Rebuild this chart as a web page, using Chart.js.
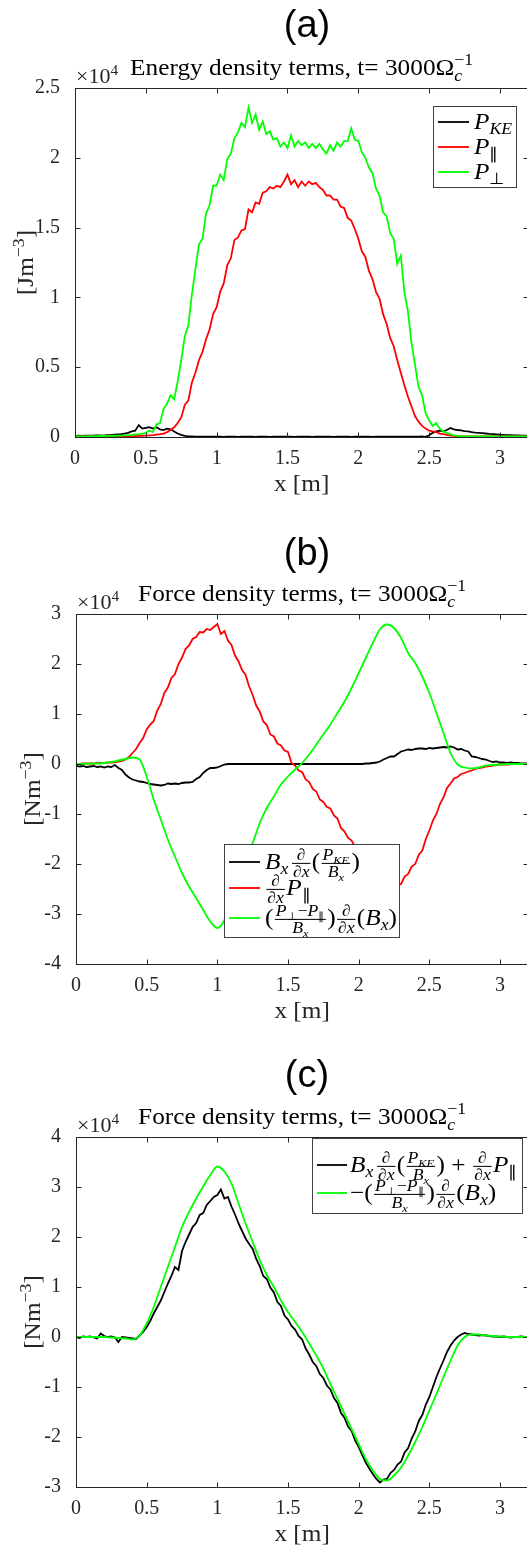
<!DOCTYPE html>
<html><head><meta charset="utf-8">
<script src="https://cdn.jsdelivr.net/npm/chart.js@4.4.0/dist/chart.umd.min.js"></script>
<style>
html,body{margin:0;padding:0;background:#fff;overflow:hidden;width:527px;height:1550px;position:relative;}
canvas{position:absolute;left:0;}
</style></head><body>
<canvas id="ca" width="540" height="515" style="top:0px"></canvas>
<canvas id="cb" width="540" height="515" style="top:515px"></canvas>
<canvas id="cc" width="540" height="520" style="top:1030px"></canvas>
<script>
// ---------- DATA (values in units of 1e4) ----------
const X_TICKS_STEP = 0.5;
const xFine = Array.from({length: 129}, (_, i) => +(i * 0.025).toFixed(3));   // 0 .. 3.2
const xCoarse = Array.from({length: 65}, (_, i) => +(i * 0.05).toFixed(2));   // 0 .. 3.2

// Panel (a): energy density terms
const A_PKE = [
 0.008,0.009,0.008,0.010,0.009,0.010,0.011,0.012,0.010,0.013,
 0.014,0.016,0.018,0.020,0.025,0.030,0.040,0.045,0.085,0.060,
 0.065,0.070,0.060,0.070,0.055,0.050,0.060,0.055,0.040,0.025,
 0.015,0.008,0.005,0.004,0.003,0.003,0.003,0.002,0.002,0.002,
 0.002,0.002,0.001,0.002,0.002,0.002,0.001,0.002,0.002,0.002,
 0.002,0.001,0.002,0.002,0.002,0.001,0.002,0.002,0.002,0.002,
 0.002,0.002,0.001,0.002,0.002,0.002,0.002,0.001,0.002,0.002,
 0.002,0.002,0.002,0.001,0.002,0.002,0.002,0.002,0.001,0.002,
 0.002,0.002,0.002,0.002,0.001,0.002,0.002,0.002,0.002,0.002,
 0.002,0.002,0.002,0.002,0.002,0.002,0.002,0.003,0.004,0.001,
 0.012,0.030,0.040,0.045,0.040,0.050,0.065,0.055,0.050,0.048,
 0.042,0.040,0.035,0.032,0.030,0.028,0.025,0.022,0.020,0.018,
 0.016,0.015,0.014,0.013,0.012,0.011,0.010,0.010,0.010];
const A_PPAR = [
 0.004,0.004,0.004,0.004,0.004,0.004,0.004,0.004,0.004,0.004,
 0.004,0.004,0.005,0.005,0.005,0.006,0.006,0.007,0.008,0.009,
 0.010,0.012,0.014,0.017,0.020,0.025,0.035,0.050,0.070,0.100,
 0.14,0.23,0.26,0.39,0.46,0.55,0.61,0.70,0.77,0.88,
 0.93,1.04,1.10,1.23,1.28,1.41,1.43,1.48,1.49,1.63,
 1.61,1.68,1.67,1.75,1.76,1.79,1.78,1.80,1.79,1.83,
 1.88,1.81,1.84,1.79,1.83,1.80,1.83,1.81,1.82,1.79,
 1.77,1.73,1.73,1.70,1.70,1.65,1.64,1.57,1.55,1.49,
 1.42,1.33,1.29,1.19,1.13,1.04,0.99,0.88,0.81,0.71,
 0.65,0.55,0.46,0.37,0.29,0.22,0.15,0.11,0.08,0.06,
 0.045,0.040,0.035,0.025,0.020,0.015,0.010,0.008,0.006,0.005,
 0.004,0.004,0.004,0.004,0.004,0.004,0.004,0.004,0.004,0.004,
 0.004,0.004,0.004,0.004,0.004,0.004,0.004,0.004,0.004];
const A_PPERP = [
 0.005,0.005,0.005,0.005,0.006,0.006,0.006,0.007,0.007,0.008,
 0.008,0.009,0.010,0.010,0.012,0.013,0.015,0.018,0.020,0.025,
 0.030,0.045,0.035,0.090,0.100,0.200,0.240,0.300,0.270,0.400,
 0.55,0.72,0.80,1.02,1.20,1.38,1.42,1.60,1.66,1.80,
 1.80,1.88,1.84,1.99,2.03,2.14,2.18,2.25,2.22,2.36,
 2.25,2.31,2.20,2.26,2.17,2.19,2.13,2.14,2.08,2.11,
 2.07,2.16,2.08,2.12,2.09,2.11,2.07,2.10,2.07,2.10,
 2.06,2.03,2.09,2.05,2.11,2.08,2.12,2.12,2.21,2.13,
 2.12,2.04,2.00,1.93,1.89,1.78,1.73,1.61,1.58,1.46,
 1.42,1.24,1.30,1.04,0.90,0.68,0.52,0.36,0.30,0.17,
 0.12,0.08,0.10,0.06,0.04,0.03,0.02,0.012,0.008,0.006,
 0.005,0.005,0.005,0.005,0.005,0.005,0.005,0.005,0.005,0.005,
 0.005,0.005,0.005,0.005,0.005,0.005,0.005,0.005,0.005];

// Panel (b): force density terms
const B_KE = [
 -0.03,-0.05,-0.04,-0.06,-0.05,-0.04,-0.06,-0.05,-0.07,-0.05,
 -0.06,-0.02,-0.08,-0.12,-0.21,-0.27,-0.31,-0.33,-0.35,-0.36,
 -0.38,-0.40,-0.41,-0.42,-0.43,-0.42,-0.39,-0.40,-0.39,-0.40,
 -0.38,-0.37,-0.37,-0.36,-0.30,-0.26,-0.18,-0.12,-0.08,-0.08,
 -0.07,-0.04,-0.01,0.00,0.00,0.00,0.00,0.00,0.00,0.00,
 0.00,0.00,0.00,0.00,0.00,0.00,0.00,0.00,0.00,0.00,
 0.00,0.00,0.00,0.00,0.00,0.00,0.00,0.00,0.00,0.00,
 0.00,0.00,0.00,0.00,0.00,0.00,0.00,0.00,0.00,0.00,
 0.00,0.00,0.01,0.01,0.02,0.03,0.05,0.09,0.12,0.15,
 0.15,0.20,0.25,0.27,0.29,0.28,0.30,0.31,0.31,0.30,
 0.32,0.31,0.32,0.33,0.34,0.33,0.35,0.33,0.29,0.30,
 0.27,0.25,0.15,0.14,0.12,0.10,0.09,0.06,0.04,0.05,
 0.03,0.03,0.02,0.03,0.02,0.02,0.01,0.01,0.01];
const B_DPPAR = [
 0.00,0.00,0.01,0.01,0.01,0.01,0.02,0.02,0.02,0.03,
 0.03,0.04,0.05,0.06,0.09,0.14,0.22,0.30,0.42,0.52,
 0.69,0.79,0.86,1.07,1.20,1.42,1.53,1.72,1.80,2.00,
 2.13,2.30,2.37,2.50,2.54,2.64,2.63,2.70,2.68,2.74,
 2.80,2.60,2.66,2.47,2.38,2.17,2.05,1.88,1.78,1.55,
 1.38,1.17,1.05,0.85,0.78,0.59,0.55,0.41,0.37,0.27,
 0.24,0.02,-0.03,-0.13,-0.16,-0.31,-0.36,-0.50,-0.55,-0.71,
 -0.76,-0.86,-0.89,-1.03,-1.09,-1.28,-1.35,-1.48,-1.53,-1.66,
 -1.75,-1.90,-2.05,-2.20,-2.35,-2.45,-2.52,-2.56,-2.55,-2.50,
 -2.48,-2.43,-2.40,-2.25,-2.20,-2.05,-2.00,-1.82,-1.73,-1.50,
 -1.33,-1.13,-1.00,-0.80,-0.67,-0.48,-0.39,-0.29,-0.26,-0.20,
 -0.18,-0.15,-0.13,-0.10,-0.08,-0.07,-0.05,-0.04,-0.03,-0.02,
 -0.01,-0.01,-0.01,0.00,0.00,0.00,0.00,0.00,0.00];
const B_ANISO = [
 0.00,0.00,0.01,0.01,0.02,0.04,0.07,0.10,0.13,0.09,
 -0.25,-0.71,-1.11,-1.51,-1.85,-2.18,-2.45,-2.68,-2.92,-3.15,
 -3.28,-3.12,-2.72,-2.25,-1.88,-1.58,-1.18,-0.88,-0.65,-0.41,
 -0.25,-0.11,0.02,0.19,0.39,0.59,0.79,1.02,1.25,1.52,
 1.82,2.12,2.42,2.69,2.79,2.72,2.52,2.22,2.02,1.75,
 1.42,1.02,0.62,0.22,-0.01,-0.07,-0.09,-0.07,-0.03,-0.02,
 -0.01,0.00,0.00,0.00,0.00];

// Panel (c): balance
const C_SUM = [
 0.00,-0.02,0.01,0.00,0.01,-0.01,-0.03,0.07,0.02,0.00,
 0.01,-0.01,-0.10,0.00,-0.01,-0.02,-0.03,-0.04,0.03,0.10,
 0.20,0.32,0.47,0.60,0.73,0.90,1.07,1.22,1.40,1.34,
 1.72,1.90,2.05,2.20,2.28,2.44,2.48,2.64,2.72,2.80,
 2.84,2.95,2.77,2.80,2.61,2.45,2.27,2.12,1.97,1.86,
 1.76,1.56,1.42,1.22,1.16,0.99,0.89,0.70,0.62,0.43,
 0.35,0.22,0.15,0.02,-0.05,-0.23,-0.35,-0.50,-0.58,-0.74,
 -0.82,-0.97,-1.05,-1.22,-1.32,-1.52,-1.62,-1.79,-1.88,-2.07,
 -2.20,-2.36,-2.51,-2.63,-2.74,-2.84,-2.91,-2.85,-2.84,-2.72,
 -2.66,-2.55,-2.49,-2.31,-2.22,-2.03,-1.89,-1.68,-1.56,-1.35,
 -1.20,-1.00,-0.80,-0.63,-0.47,-0.30,-0.17,-0.07,0.00,0.05,
 0.08,0.06,0.05,0.04,0.03,0.04,0.03,0.02,0.01,0.01,
 0.00,0.01,0.00,-0.01,0.00,0.00,0.01,0.00,0.00];
const C_ANISO = [
 0.00,0.00,0.00,0.00,0.00,-0.01,-0.02,-0.03,-0.05,0.03,
 0.27,0.60,1.00,1.40,1.80,2.20,2.50,2.77,3.01,3.24,
 3.41,3.31,3.07,2.67,2.27,1.90,1.54,1.24,1.00,0.73,
 0.50,0.30,0.10,-0.13,-0.37,-0.63,-0.94,-1.24,-1.54,-1.84,
 -2.14,-2.44,-2.67,-2.84,-2.87,-2.77,-2.61,-2.37,-2.10,-1.80,
 -1.47,-1.14,-0.80,-0.47,-0.17,0.00,0.05,0.05,0.03,0.02,
 0.01,0.00,0.00,0.00,0.00];

// ---------- math text helper ----------
const SERIF = '"Liberation Serif","Times New Roman",serif';
const SX = 1.1; // horizontal stretch to approximate Computer Modern widths
function layoutMath(ctx, toks, size, x, y, draw) {
  let cx = x;
  for (const t of toks) {
    const k = t[0];
    if (k === 'r' || k === 'i') {
      ctx.font = (k === 'i' ? 'italic ' : '') + size.toFixed(2) + 'px ' + SERIF;
      const w = ctx.measureText(t[1]).width * SX;
      if (draw) { ctx.save(); ctx.translate(cx, y); ctx.scale(SX, 1); ctx.fillText(t[1], 0, 0); ctx.restore(); }
      cx += w;
    } else if (k === 'sub') {
      cx += layoutMath(ctx, t[1], size * 0.7, cx, y + size * 0.22, draw);
    } else if (k === 'sup') {
      cx += layoutMath(ctx, t[1], size * 0.7, cx, y - size * 0.4, draw);
    } else if (k === 'subsup') {
      const w1 = layoutMath(ctx, t[1], size * 0.7, cx, y + size * 0.25, draw);
      const w2 = layoutMath(ctx, t[2], size * 0.7, cx, y - size * 0.42, draw);
      cx += Math.max(w1, w2);
    } else if (k === 'frac') {
      const s = size * 0.7;
      const wn = layoutMath(ctx, t[1], s, 0, 0, false);
      const wd = layoutMath(ctx, t[2], s, 0, 0, false);
      const pad = size * 0.1;
      const w = Math.max(wn, wd) + 2 * pad;
      const axis = y - size * 0.26;
      if (draw) {
        layoutMath(ctx, t[1], s, cx + (w - wn) / 2, axis - size * 0.14, true);
        layoutMath(ctx, t[2], s, cx + (w - wd) / 2, axis + size * 0.12 + s * 0.68, true);
        ctx.fillRect(cx + pad * 0.6, axis - 0.5, w - pad * 1.2, 1);
      }
      cx += w;
    } else if (k === 'sp') {
      cx += size * t[1];
    }
  }
  return cx - x;
}
const DDX = ['frac', [['r','∂']], [['r','∂'],['i','x']]];
const BX = [['i','B'],['sub',[['i','x']]]];
const PKE = [['i','P'],['sub',[['i','KE']]]];
const PPAR = [['i','P'],['sub',[['r','∥']]]];
const PPERP = [['i','P'],['sub',[['r','⊥']]]];
const SP = ['sp', 0.1];

// ---------- plugins ----------
const framePlugin = {
  id: 'frame',
  afterDatasetsDraw(chart) {
    const {ctx, chartArea: a, scales: {x, y}} = chart;
    ctx.save();
    ctx.strokeStyle = '#262626'; ctx.lineWidth = 1;
    const L = Math.round(a.left) + 0.5, R = Math.round(a.right) + 0.5, T = Math.round(a.top) + 0.5, B = Math.round(a.bottom) + 0.5;
    ctx.strokeRect(L, T, R - L, B - T);
    ctx.beginPath();
    x.ticks.forEach(t => { const p = Math.round(x.getPixelForValue(t.value)) + 0.5; ctx.moveTo(p, B); ctx.lineTo(p, B - 5); ctx.moveTo(p, T); ctx.lineTo(p, T + 5); });
    y.ticks.forEach(t => { const p = Math.round(y.getPixelForValue(t.value)) + 0.5; ctx.moveTo(L, p); ctx.lineTo(L + 5, p); ctx.moveTo(R, p); ctx.lineTo(R - 5, p); });
    ctx.stroke();
    ctx.restore();
  }
};
const annotPlugin = {
  id: 'annot',
  afterDraw(chart, args, o) {
    const ctx = chart.ctx, a = chart.chartArea;
    ctx.save();
    ctx.textBaseline = 'alphabetic'; ctx.textAlign = 'center'; ctx.fillStyle = '#000';
    ctx.font = '38px "Liberation Sans", Arial, sans-serif';
    ctx.fillText(o.letter, 307, o.letterY);
    ctx.textAlign = 'left';
    const cxm = (a.left + a.right) / 2;
    const ws = layoutMath(ctx, o.subtitle, 23, 0, 0, false);
    layoutMath(ctx, o.subtitle, 23, cxm - ws / 2, a.top - 13, true);
    ctx.fillStyle = '#262626';
    layoutMath(ctx, [['r','×10'],['sup',[['r','4']]]], 20, a.left + 1, a.top - 5, true);
    const wx = layoutMath(ctx, o.xlabel, 23, 0, 0, false);
    layoutMath(ctx, o.xlabel, 23, cxm - wx / 2, a.bottom + 53.5, true);
    const wy = layoutMath(ctx, o.ylabel, 23, 0, 0, false);
    ctx.save(); ctx.translate(o.ylabX, (a.top + a.bottom) / 2); ctx.rotate(-Math.PI / 2);
    layoutMath(ctx, o.ylabel, 23, -wy / 2, 23 * 0.3, true);
    ctx.restore();
    const L = o.legend;
    ctx.fillStyle = '#fff';
    ctx.fillRect(L.box[0], L.box[1], L.box[2] - L.box[0], L.box[3] - L.box[1]);
    ctx.strokeStyle = '#404040'; ctx.lineWidth = 1;
    ctx.strokeRect(L.box[0] + 0.5, L.box[1] + 0.5, L.box[2] - L.box[0], L.box[3] - L.box[1]);
    L.items.forEach((toks, i) => {
      const ds = chart.data.datasets[i];
      ctx.strokeStyle = ds.borderColor; ctx.lineWidth = ds.borderWidth;
      ctx.beginPath(); ctx.moveTo(L.line[0], L.rows[i]); ctx.lineTo(L.line[1], L.rows[i]); ctx.stroke();
      ctx.fillStyle = '#000';
      layoutMath(ctx, toks, L.size, L.textX, L.rows[i] + L.size * 0.32, true);
    });
    ctx.restore();
  }
};

function pts(xs, ys) { return ys.map((v, i) => ({x: xs[i], y: v})); }
function ds(xs, ys, color, order, smooth) {
  return {data: pts(xs, ys), borderColor: color, borderWidth: 1.8, pointRadius: 0, showLine: true,
          order: order, cubicInterpolationMode: smooth ? 'monotone' : 'default', tension: 0, fill: false};
}
const fmt = v => String(Math.round(v * 100) / 100);
function makeChart(id, datasets, ymin, ymax, left, top, xh, annot) {
  const tickFont = {family: SERIF, size: 20};
  return new Chart(document.getElementById(id), {
    type: 'scatter',
    data: {datasets},
    options: {
      responsive: false, animation: false, devicePixelRatio: 1,
      layout: {padding: {top: top, right: 540 - 528.3, left: 0, bottom: 0}},
      plugins: {legend: {display: false}, tooltip: {enabled: false}, annot: annot},
      scales: {
        x: {type: 'linear', min: 0, max: 3.2, grid: {display: false}, border: {display: false},
            ticks: {stepSize: X_TICKS_STEP, includeBounds: false, font: tickFont, color: '#262626', padding: 2, maxRotation: 0, autoSkip: false, callback: fmt},
            afterFit(s) { s.height = xh; }},
        y: {type: 'linear', min: ymin, max: ymax, grid: {display: false}, border: {display: false},
            ticks: {stepSize: ymax - ymin > 4 ? 1 : 0.5, includeBounds: false, font: tickFont, color: '#262626', padding: 7, autoSkip: false, callback: fmt},
            afterFit(s) { s.width = left; }}
      }
    },
    plugins: [framePlugin, annotPlugin]
  });
}

const SUBTXT = (w) => [['r', w + ' density terms, t= 3000Ω'], ['subsup', [['i','c']], [['r','−1']]]];
const XLAB = [['r','x [m]']];
const ROW_KE = [...BX, SP, DDX, ['r','('], ['frac', PKE, BX], ['r',')']];
const ROW_PAR = [DDX, ...PPAR];
const ROW_ANI = [['r','('], ['frac', [...PPERP, ['r','−'], ...PPAR], BX], ['r',')'], DDX, ['r','('], ...BX, ['r',')']];

makeChart('ca', [
  ds(xFine, A_PKE, '#000000', 3),
  ds(xFine, A_PPAR, '#ff0000', 2),
  ds(xFine, A_PPERP, '#00ff00', 1)
], 0, 2.5, 75, 88, 78, {
  letter: '(a)', letterY: 36.5, subtitle: SUBTXT('Energy'), xlabel: XLAB,
  ylabel: [['r','[Jm'],['sup',[['r','−3']]],['r',']']], ylabX: 26,
  legend: {box: [433, 106, 516, 187], rows: [122, 147, 172], line: [438, 469], textX: 474, size: 23,
           items: [PKE, PPAR, PPERP]}
});
makeChart('cb', [
  ds(xFine, B_KE, '#000000', 3),
  ds(xFine, B_DPPAR, '#ff0000', 2),
  ds(xCoarse, B_ANISO, '#00ff00', 1, true)
], -4, 3, 76, 99, 66, {
  letter: '(b)', letterY: 49.5, subtitle: SUBTXT('Force'), xlabel: XLAB,
  ylabel: [['r','[Nm'],['sup',[['r','−3']]],['r',']']], ylabX: 33,
  legend: {box: [224, 329, 399, 422], rows: [347, 373, 403], line: [229, 260], textX: 265, size: 23,
           items: [ROW_KE, ROW_PAR, ROW_ANI]}
});
makeChart('cc', [
  ds(xFine, C_SUM, '#000000', 2),
  ds(xCoarse, C_ANISO, '#00ff00', 1, true)
], -3, 4, 76, 107, 63, {
  letter: '(c)', letterY: 56.7, subtitle: SUBTXT('Force'), xlabel: XLAB,
  ylabel: [['r','[Nm'],['sup',[['r','−3']]],['r',']']], ylabX: 33,
  legend: {box: [312, 108, 522, 183], rows: [135, 163], line: [317, 347], textX: 350, size: 23,
           items: [
             [...ROW_KE, ['r',' + '], ...ROW_PAR],
             [['r','−'], ...ROW_ANI]
           ]}
});
</script>
</body></html>
